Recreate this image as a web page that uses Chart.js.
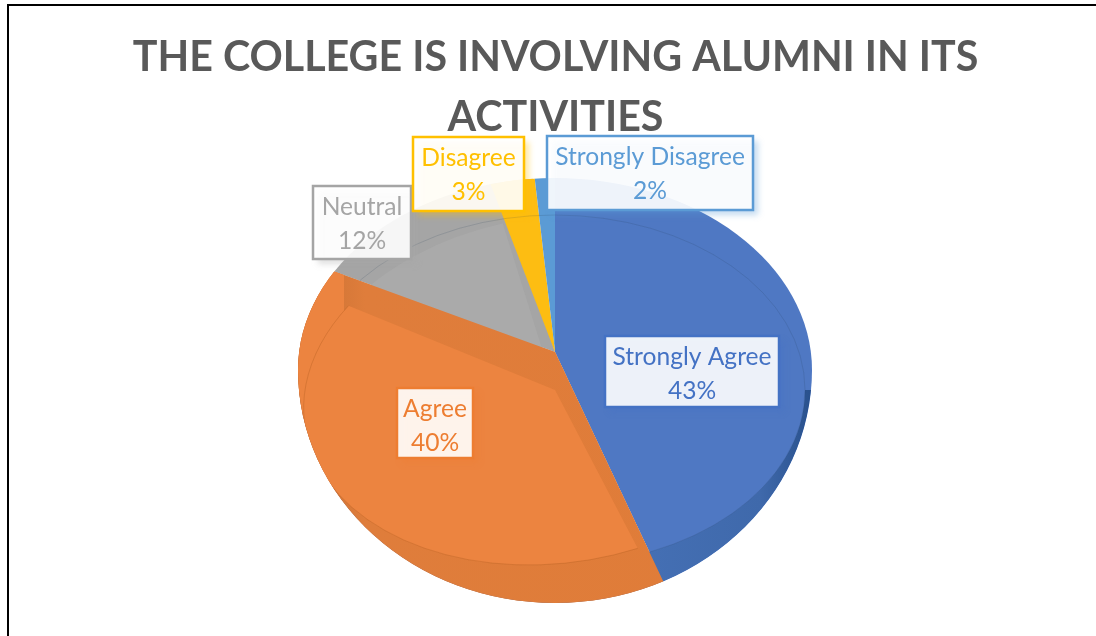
<!DOCTYPE html>
<html>
<head>
<meta charset="utf-8">
<title>Alumni involvement</title>
<script src="https://cdn.jsdelivr.net/npm/chart.js@4"></script>
<style>
    html, body { margin: 0; padding: 0; background: #fff; overflow: hidden; }
    #frame { position: absolute; left: 7px; top: 4px; right: -4px; bottom: -4px; border: 2px solid #000; }
    canvas { position: absolute; left: 0; top: 0; }
</style>
</head>
<body>
<div id="frame"></div>
<canvas id="pieChart" width="1096" height="636"></canvas>
<script>
const titleLines = ['THE COLLEGE IS INVOLVING ALUMNI IN ITS', 'ACTIVITIES'];
const categories = ['Strongly Agree', 'Agree', 'Neutral', 'Disagree', 'Strongly Disagree'];
const percents = [43, 40, 12, 3, 2];
const sliceColors = ['#4f78c3', '#ec8440', '#a5a5a5', '#fdbd12', '#5b9bd5'];
const textColors = ['#4472c4', '#ed7d31', '#a5a5a5', '#ffc000', '#5b9bd5'];

// Where each label box sits (left, top, right, bottom)
const labelBoxes = [
    [605, 336, 779, 407],
    [397, 388, 473, 458],
    [313, 186, 411, 259],
    [413, 137, 524, 211],
    [547, 136, 753, 210]
];

// The fake 3D look: apex of the back wedge, apex of the front face, outline of the pie
const PIE = {
    cx: 555,
    backY: 352,
    faceY: 390,
    outlineY: 370,
    rx: 257, ryTop: 192, ryBottom: 233,
    faceRx: 250, faceRy: 175,
    backScaleX: 1.5 * 256, backScaleY: 1.5 * 285, backSkew: -0.247,
    faceSkew: -0.15,
    wallLeftEnd: 344, wallLeftY: 425
};

function outlinePath(ctx) {
    ctx.beginPath();
    ctx.ellipse(PIE.cx, PIE.outlineY, PIE.rx, PIE.ryTop, 0, Math.PI, 2 * Math.PI);
    ctx.ellipse(PIE.cx, PIE.outlineY, PIE.rx, PIE.ryBottom, 0, 0, Math.PI);
    ctx.closePath();
}

function backTransform(ctx, arc) {
    const sx = PIE.backScaleX / arc.outerRadius;
    const sy = PIE.backScaleY / arc.outerRadius;
    ctx.transform(sx, PIE.backSkew * sx, 0, sy, PIE.cx - sx * arc.x, PIE.backY - PIE.backSkew * sx * arc.x - sy * arc.y);
}

function faceTransform(ctx, arc) {
    const sx = PIE.faceRx / arc.outerRadius;
    const sy = PIE.faceRy / arc.outerRadius;
    ctx.transform(sx, 0, PIE.faceSkew * sy, sy, PIE.cx - sx * arc.x - PIE.faceSkew * sy * arc.y, PIE.faceY - sy * arc.y);
}

// the yellow wedge opens a bit wider than the others in the picture
function yellowTransform(ctx, arc) {
    const sy = PIE.backScaleY / arc.outerRadius;
    const sx = 1.29 * sy;
    const c = -0.035 * sy;
    ctx.transform(sx, 0, c, sy, PIE.cx - sx * arc.x - c * arc.y, PIE.backY - sy * arc.y);
}

// Builds the wedge path under a transform, the fill happens in page pixels
function wedgePath(ctx, arc, applyTransform) {
    ctx.save();
    applyTransform(ctx, arc);
    ctx.beginPath();
    ctx.moveTo(arc.x, arc.y);
    ctx.arc(arc.x, arc.y, arc.outerRadius, arc.startAngle, arc.endAngle);
    ctx.closePath();
    ctx.restore();
}

function sideGradient(ctx, stops) {
    const g = ctx.createLinearGradient(PIE.cx - PIE.rx, 0, PIE.cx + PIE.rx, 0);
    stops.forEach(s => g.addColorStop(s[0], s[1]));
    return g;
}

const pie3d = {
    id: 'pie3d',
    beforeDatasetDraw(chart, args) {
        const ctx = chart.ctx;
        ctx.save();
        outlinePath(ctx);
        ctx.clip();
        backTransform(ctx, args.meta.data[0]);
    },
    afterDatasetDraw(chart, args) {
        const ctx = chart.ctx;
        const arcs = args.meta.data;
        ctx.restore();

        ctx.save();
        outlinePath(ctx);
        ctx.clip();

        wedgePath(ctx, arcs[3], yellowTransform);
        ctx.fillStyle = sliceColors[3];
        ctx.fill();

        // neutral face, leaves a darker strip next to the yellow wedge
        wedgePath(ctx, arcs[2], faceTransform);
        ctx.fillStyle = '#aaaaaa';
        ctx.fill();

        // blue wall under the face
        ctx.save();
        ctx.beginPath();
        ctx.rect(PIE.cx - PIE.rx, PIE.faceY, 2 * PIE.rx, 260);
        ctx.clip();
        outlinePath(ctx);
        ctx.ellipse(PIE.cx, PIE.faceY, PIE.faceRx, PIE.faceRy, 0, 0, 2 * Math.PI);
        ctx.fillStyle = sideGradient(ctx, [[0.65, '#4570b5'], [0.9, '#3f69ab'], [1, '#28508c']]);
        ctx.fill('evenodd');
        ctx.restore();

        // thin rim line
        ctx.beginPath();
        ctx.ellipse(PIE.cx, PIE.faceY, PIE.faceRx, PIE.faceRy, 0, 0, 2 * Math.PI);
        ctx.strokeStyle = 'rgba(40, 60, 90, 0.16)';
        ctx.lineWidth = 1;
        ctx.stroke();

        // orange wall
        wedgePath(ctx, arcs[1], backTransform);
        ctx.fillStyle = sideGradient(ctx, [[0, '#a9602c'], [0.05, '#cf7436'], [0.13, '#df7d3b'], [1, '#e07c38']]);
        ctx.fill();

        // the left rim above the wall keeps the face colour
        ctx.save();
        wedgePath(ctx, arcs[1], backTransform);
        ctx.clip();
        ctx.fillStyle = sliceColors[1];
        ctx.fillRect(PIE.cx - PIE.rx, 0, PIE.wallLeftEnd - PIE.cx + PIE.rx, PIE.wallLeftY);
        ctx.restore();

        // orange face
        wedgePath(ctx, arcs[1], faceTransform);
        ctx.fillStyle = sliceColors[1];
        ctx.fill();

        // only the curved edge of the face gets a faint line
        ctx.save();
        faceTransform(ctx, arcs[1]);
        ctx.beginPath();
        ctx.arc(arcs[1].x, arcs[1].y, arcs[1].outerRadius, arcs[1].startAngle, arcs[1].endAngle);
        ctx.restore();
        ctx.strokeStyle = 'rgba(170, 90, 30, 0.3)';
        ctx.stroke();
        ctx.restore();
    },
    afterDraw(chart) {
        const ctx = chart.ctx;
        categories.forEach((name, i) => {
            const [l, t, r, b] = labelBoxes[i];
            ctx.save();
            ctx.shadowColor = textColors[i] + '66';
            ctx.shadowBlur = 6;
            ctx.shadowOffsetX = 5;
            ctx.shadowOffsetY = 5;
            ctx.fillStyle = 'rgba(255, 255, 255, 0.9)';
            ctx.fillRect(l, t, r - l, b - t);
            ctx.restore();

            ctx.strokeStyle = textColors[i];
            ctx.lineWidth = 2.5;
            ctx.strokeRect(l, t, r - l, b - t);

            ctx.fillStyle = textColors[i];
            ctx.font = '24.6px Lato';
            ctx.textAlign = 'center';
            ctx.textBaseline = 'middle';
            const mid = (l + r) / 2;
            ctx.fillText(name, mid, t + 21);
            ctx.fillText(percents[i] + '%', mid, t + 55);
        });
    }
};

new Chart(document.getElementById('pieChart'), {
    type: 'pie',
    data: {
        labels: categories,
        datasets: [{
            data: percents,
            backgroundColor: sliceColors,
            borderWidth: 0,
            clip: false
        }]
    },
    options: {
        responsive: false,
        animation: false,
        layout: { padding: { left: 15 } },
        plugins: {
            legend: { display: false },
            tooltip: { enabled: false },
            title: {
                display: true,
                fullSize: false,
                text: titleLines,
                color: '#595959',
                font: { family: 'Lato', size: 41.2, weight: 'bold', lineHeight: 1.456 },
                padding: { top: 28, bottom: 0 }
            }
        }
    },
    plugins: [pie3d]
});
</script>
</body>
</html>
